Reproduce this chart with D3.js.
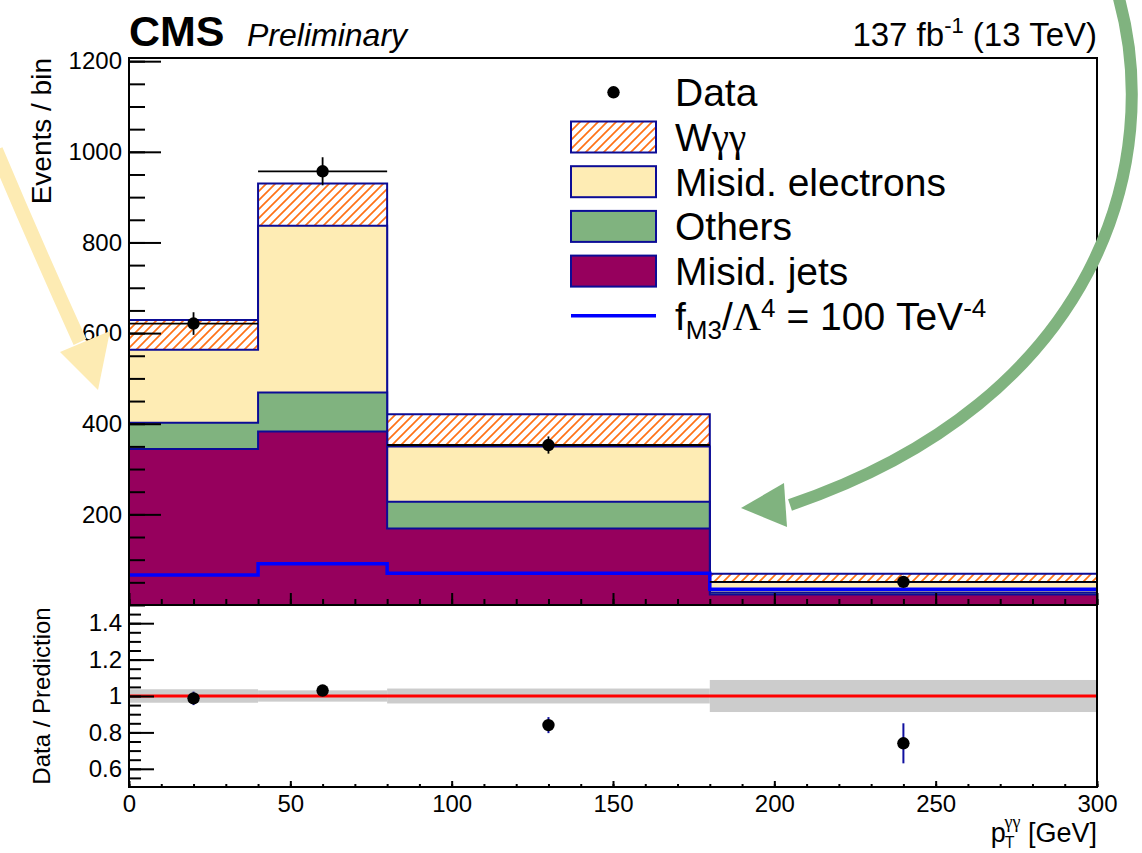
<!DOCTYPE html>
<html>
<head>
<meta charset="utf-8">
<script src="https://cdn.jsdelivr.net/npm/d3@7"></script>
<style>
  body { margin: 0; background: #fff; }
  svg { display: block; font-family: "Liberation Sans", Arial, Helvetica, sans-serif; }
</style>
</head>
<body>
<svg id="chart" width="1142" height="853"></svg>
<script>
// ---- binned distributions (events per bin) ----
const binEdges       = [0, 40, 80, 180, 300];
const misidJets      = [344, 383, 169, 23];
const others         = [58, 86, 59, 4.5];
const misidElectrons = [161, 368, 122, 23.5];
const wgg            = [66, 93, 71, 18];
const eftSignal      = [66, 91, 70, 35];
const dataCounts     = [621, 957, 353, 51];
const dataErr        = [25, 31, 19, 7];

// ---- ratio panel ----
const ratioValues = [0.987, 1.03, 0.84, 0.74];
const ratioErr    = [0.037, 0.03, 0.044, 0.11];
const predUncert  = [0.037, 0.031, 0.041, 0.088];

// ---- ticks ----
const xTicksMajor   = [0, 50, 100, 150, 200, 250, 300];
const yTicksMain    = [200, 400, 600, 800, 1000, 1200];
const yTicksRatio   = [0.6, 0.8, 1.0, 1.2, 1.4];

const colors = {
  hatch: "#ff7216",
  electrons: "#feecb4",
  others: "#80b37f",
  jets: "#96005d",
  outline: "#0c0c96",
  eft: "#0000ff"
};

const L = 129, R = 1097, T = 58, MID = 605, B = 787;

const svg = d3.select("#chart");
const x  = d3.scaleLinear().domain([0, 300]).range([L, R]);
const y  = d3.scaleLinear().domain([0, 1207]).range([MID, T]);
const yr = d3.scaleLinear().domain([0.5, 1.5]).range([B, MID]);

// hatch pattern for the W gamma gamma component
const defs = svg.append("defs");
const pat = defs.append("pattern")
  .attr("id", "hatch").attr("patternUnits", "userSpaceOnUse")
  .attr("width", 9).attr("height", 9);
pat.append("rect").attr("width", 9).attr("height", 9).attr("fill", "#fff");
pat.append("path")
  .attr("d", "M0,9 L9,0 M-3,3 L3,-3 M6,12 L12,6")
  .attr("stroke", colors.hatch).attr("stroke-width", 1.7);

defs.append("clipPath").attr("id", "clipMain")
  .append("rect").attr("x", L).attr("y", T).attr("width", R - L).attr("height", MID - T);
defs.append("clipPath").attr("id", "clipRatio")
  .append("rect").attr("x", L).attr("y", MID).attr("width", R - L).attr("height", B - MID);

// ---- stacked histogram ----
const layers = [
  { name: "jets", vals: misidJets, fill: colors.jets },
  { name: "others", vals: others, fill: colors.others },
  { name: "electrons", vals: misidElectrons, fill: colors.electrons },
  { name: "wgg", vals: wgg, fill: "url(#hatch)" }
];
let running = [0, 0, 0, 0];
layers.forEach(l => {
  running = running.map((v, i) => v + l.vals[i]);
  l.cum = running.slice();
});

const stepPts = vals => vals.map((v, i) => [binEdges[i], v]).concat([[binEdges[binEdges.length - 1], vals[vals.length - 1]]]);

const area = d3.area()
  .x(d => x(d[0])).y0(y(0)).y1(d => y(d[1]))
  .curve(d3.curveStepAfter);

const gMain = svg.append("g").attr("clip-path", "url(#clipMain)");
layers.slice().reverse().forEach(l => {
  gMain.append("path")
    .attr("d", area(stepPts(l.cum)))
    .attr("fill", l.fill)
    .attr("stroke", colors.outline)
    .attr("stroke-width", 2);
});

// EFT prediction line
const stepLine = d3.line().x(d => x(d[0])).y(d => y(d[1])).curve(d3.curveStepAfter);
gMain.append("path")
  .attr("d", stepLine(stepPts(eftSignal)))
  .attr("fill", "none").attr("stroke", colors.eft).attr("stroke-width", 3.5);

// data points
const gData = svg.append("g");
dataCounts.forEach((v, i) => {
  const cx = x((binEdges[i] + binEdges[i + 1]) / 2);
  gData.append("line")
    .attr("x1", x(binEdges[i])).attr("x2", x(binEdges[i + 1]))
    .attr("y1", y(v)).attr("y2", y(v))
    .attr("stroke", "#000").attr("stroke-width", 1.8);
  gData.append("line")
    .attr("x1", cx).attr("x2", cx)
    .attr("y1", y(v - dataErr[i])).attr("y2", y(v + dataErr[i]))
    .attr("stroke", "#000").attr("stroke-width", 1.8);
  gData.append("circle").attr("cx", cx).attr("cy", y(v)).attr("r", 6.2).attr("fill", "#000");
});

// ---- ratio panel ----
const gRatio = svg.append("g").attr("clip-path", "url(#clipRatio)");
predUncert.forEach((u, i) => {
  gRatio.append("rect")
    .attr("x", x(binEdges[i])).attr("width", x(binEdges[i + 1]) - x(binEdges[i]))
    .attr("y", yr(1 + u)).attr("height", yr(1 - u) - yr(1 + u))
    .attr("fill", "#cccccc");
});
gRatio.append("line")
  .attr("x1", x(0)).attr("x2", x(300)).attr("y1", yr(1)).attr("y2", yr(1))
  .attr("stroke", "#ff0000").attr("stroke-width", 3);
ratioValues.forEach((v, i) => {
  const cx = x((binEdges[i] + binEdges[i + 1]) / 2);
  gRatio.append("line")
    .attr("x1", cx).attr("x2", cx)
    .attr("y1", yr(v - ratioErr[i])).attr("y2", yr(v + ratioErr[i]))
    .attr("stroke", "#1010a0").attr("stroke-width", 2);
  gRatio.append("circle").attr("cx", cx).attr("cy", yr(v)).attr("r", 6.2).attr("fill", "#000");
});

// ---- axes ----
function styleAxis(g) {
  g.select(".domain").remove();
  g.selectAll(".tick line").attr("stroke", "#000").attr("stroke-width", 2);
  g.selectAll(".tick text").attr("fill", "#000").attr("font-size", 24)
    .attr("font-family", '"Liberation Sans", Arial, sans-serif');
}
const range = (a, b, s) => d3.range(a, b + s / 2, s);

// main panel y axis
svg.append("g").attr("transform", `translate(${L},0)`)
  .call(d3.axisLeft(y).tickValues(range(0, 1200, 50)).tickSize(-16).tickFormat(""))
  .call(styleAxis);
svg.append("g").attr("transform", `translate(${L},0)`)
  .call(d3.axisLeft(y).tickValues(yTicksMain).tickSize(-32).tickPadding(7).tickFormat(d3.format("d")))
  .call(styleAxis);
// main panel x ticks
svg.append("g").attr("transform", `translate(0,${MID})`)
  .call(d3.axisBottom(x).tickValues(range(0, 300, 10)).tickSize(-6).tickFormat(""))
  .call(styleAxis);
svg.append("g").attr("transform", `translate(0,${MID})`)
  .call(d3.axisBottom(x).tickValues(xTicksMajor).tickSize(-12).tickFormat(""))
  .call(styleAxis);

// ratio panel y axis
svg.append("g").attr("transform", `translate(${L},0)`)
  .call(d3.axisLeft(yr).tickValues(range(0.55, 1.45, 0.05)).tickSize(-12).tickFormat(""))
  .call(styleAxis);
svg.append("g").attr("transform", `translate(${L},0)`)
  .call(d3.axisLeft(yr).tickValues(yTicksRatio).tickSize(-25).tickPadding(7)
    .tickFormat(d => Math.abs(d - 1) < 1e-9 ? "1" : d.toFixed(1)))
  .call(styleAxis);
// ratio panel x axis
svg.append("g").attr("transform", `translate(0,${B})`)
  .call(d3.axisBottom(x).tickValues(range(0, 300, 10)).tickSize(-3).tickFormat(""))
  .call(styleAxis);
svg.append("g").attr("transform", `translate(0,${B})`)
  .call(d3.axisBottom(x).tickValues(xTicksMajor).tickSize(-6).tickPadding(8).tickFormat(d3.format("d")))
  .call(styleAxis);

// frames
svg.append("rect").attr("x", L).attr("y", T).attr("width", R - L).attr("height", MID - T)
  .attr("fill", "none").attr("stroke", "#000").attr("stroke-width", 2);
svg.append("rect").attr("x", L).attr("y", MID).attr("width", R - L).attr("height", B - MID)
  .attr("fill", "none").attr("stroke", "#000").attr("stroke-width", 2);

// ---- titles ----
svg.append("text").attr("x", L).attr("y", 46)
  .attr("font-size", 43).attr("font-weight", "bold").text("CMS");
svg.append("text").attr("x", 247).attr("y", 46)
  .attr("font-size", 32).attr("font-style", "italic").text("Preliminary");

const lumi = svg.append("text").attr("x", R).attr("y", 46).attr("text-anchor", "end").attr("font-size", 33);
lumi.append("tspan").text("137 fb");
lumi.append("tspan").attr("dy", -13).attr("font-size", 22).text("-1");
lumi.append("tspan").attr("dy", 13).text(" (13 TeV)");

svg.append("text")
  .attr("transform", `translate(51,${T}) rotate(-90)`)
  .attr("text-anchor", "end").attr("font-size", 28).text("Events / bin");
svg.append("text")
  .attr("transform", `translate(50,${(MID + B) / 2}) rotate(-90)`)
  .attr("text-anchor", "middle").attr("font-size", 24).text("Data / Prediction");

const xt = svg.append("text").attr("x", R).attr("y", 842).attr("text-anchor", "end").attr("font-size", 27);
xt.append("tspan").text("p");
xt.append("tspan").attr("dy", 6).attr("dx", -1).attr("font-size", 16).text("T");
xt.append("tspan").attr("dy", -20).attr("dx", -10).attr("font-size", 18)
  .attr("font-family", '"Liberation Serif", serif').text("γγ");
xt.append("tspan").attr("dy", 14).text(" [GeV]");

// ---- legend ----
const leg = svg.append("g");
const boxX = 571, boxW = 85, boxH = 31, textX = 675, rowH = 44.7, row0 = 92.3;
const legFont = 39;
// Data
leg.append("circle").attr("cx", boxX + boxW / 2).attr("cy", row0).attr("r", 6.2).attr("fill", "#000");
leg.append("text").attr("x", textX).attr("y", row0 + 14).attr("font-size", legFont).text("Data");
const boxes = [
  { fill: "url(#hatch)", label: null },
  { fill: colors.electrons, label: "Misid. electrons" },
  { fill: colors.others, label: "Others" },
  { fill: colors.jets, label: "Misid. jets" }
];
boxes.forEach((b, i) => {
  const cy = row0 + rowH * (i + 1);
  leg.append("rect").attr("x", boxX).attr("y", cy - boxH / 2).attr("width", boxW).attr("height", boxH)
    .attr("fill", b.fill).attr("stroke", colors.outline).attr("stroke-width", 2);
  if (b.label) {
    leg.append("text").attr("x", textX).attr("y", cy + 14).attr("font-size", legFont).text(b.label);
  } else {
    const t = leg.append("text").attr("x", textX).attr("y", cy + 14).attr("font-size", legFont);
    t.append("tspan").text("W");
    t.append("tspan").attr("font-family", '"Liberation Serif", serif').text("γγ");
  }
});
const eftY = row0 + rowH * 5;
leg.append("line").attr("x1", boxX).attr("x2", boxX + boxW).attr("y1", eftY).attr("y2", eftY)
  .attr("stroke", colors.eft).attr("stroke-width", 3.5);
const et = leg.append("text").attr("x", textX).attr("y", eftY + 14).attr("font-size", legFont);
et.append("tspan").text("f");
et.append("tspan").attr("dy", 9).attr("font-size", 26).text("M3");
et.append("tspan").attr("dy", -9).text("/");
et.append("tspan").attr("font-family", '"Liberation Serif", serif').text("Λ");
et.append("tspan").attr("dy", -13).attr("font-size", 26).text("4");
et.append("tspan").attr("dy", 13).text(" = 100 TeV");
et.append("tspan").attr("dy", -13).attr("font-size", 26).text("-4");

// ---- annotation arrows ----
const ann = svg.append("g");
ann.append("path")
  .attr("d", "M-4,150 Q36,245 80,342")
  .attr("fill", "none").attr("stroke", "#fdebb3").attr("stroke-width", 14);
ann.append("path")
  .attr("d", "M60,352 L110,331 L98,390 Z").attr("fill", "#fdebb3");

ann.append("path")
  .attr("d", "M1118,-5 C1165,160 1100,400 790,505")
  .attr("fill", "none").attr("stroke", "#80b37f").attr("stroke-width", 12);
ann.append("path")
  .attr("d", "M741,508 L784,483 L787,527 Z").attr("fill", "#80b37f");
</script>
</body>
</html>
